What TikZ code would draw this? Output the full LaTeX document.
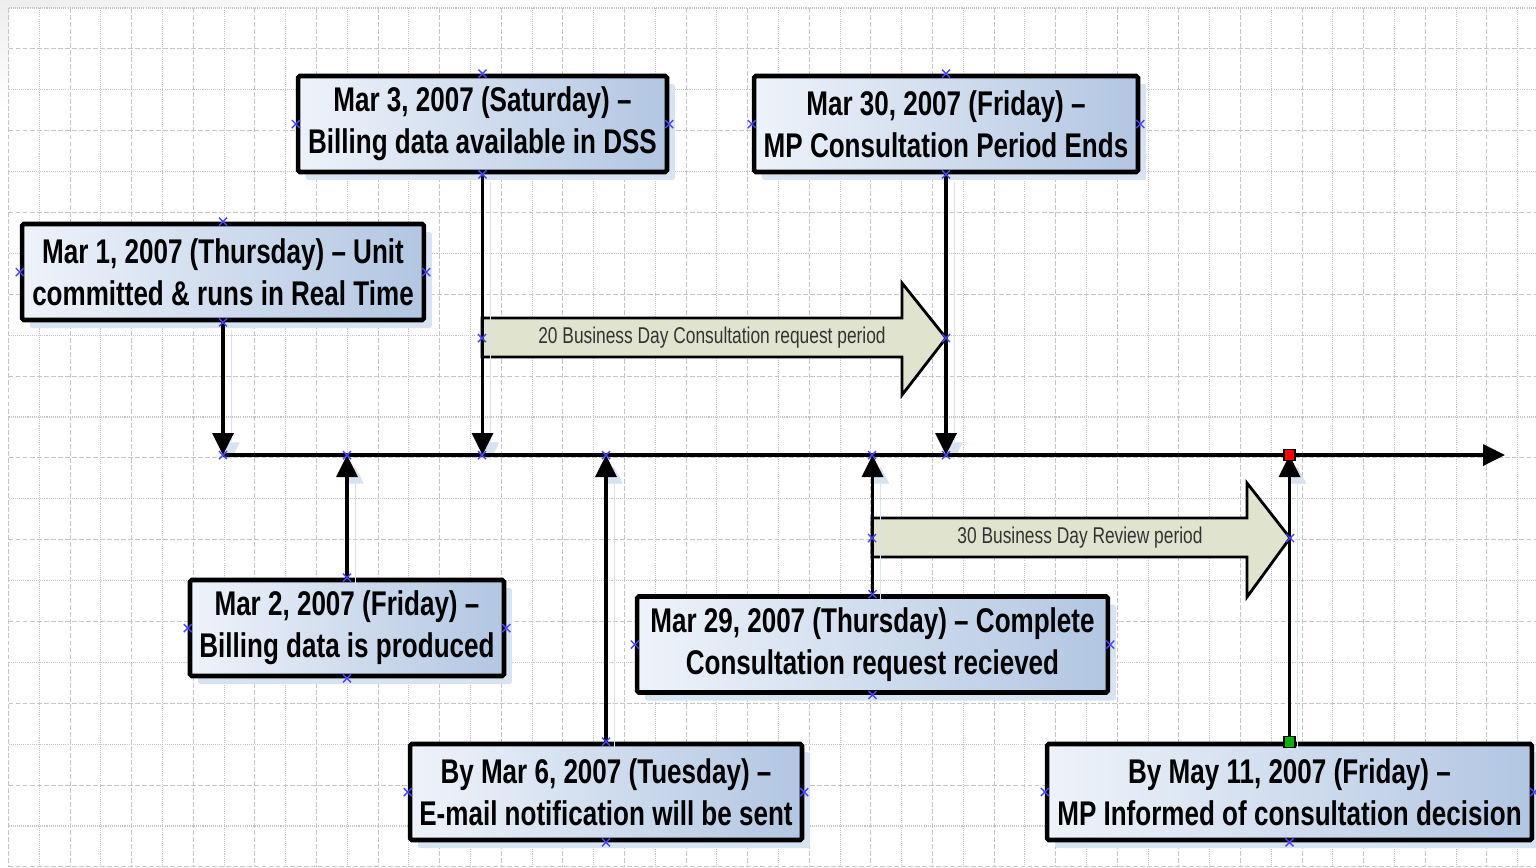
\documentclass[tikz,border=0pt]{standalone}
\usepackage{fontspec}
\setmainfont{Liberation Sans}
\newfontfamily\narrowfont{Liberation Sans}[FakeStretch=0.76,Ligatures=TeX]
\usepackage{tikz}
\usetikzlibrary{arrows.meta,shadows}
\definecolor{boxleft}{RGB}{238,243,250}
\definecolor{boxright}{RGB}{178,198,226}
\definecolor{boxshadow}{RGB}{216,227,242}
\definecolor{spanfill}{RGB}{224,228,206}
\definecolor{gridline}{RGB}{198,198,198}
\definecolor{cpblue}{RGB}{70,70,255}

\begin{document}
\begin{tikzpicture}[x=0.02cm,y=-0.02cm,>={Triangle[length=0.44cm,width=0.42cm]},
  event/.style={draw=black,line width=2.6pt,rounded corners=1pt,left color=boxleft,right color=boxright,
    minimum height=1.92cm,align=center,inner sep=2pt,
    font=\narrowfont\bfseries\fontsize{19.5}{24}\selectfont,
    drop shadow={shadow xshift=0.16cm,shadow yshift=-0.16cm,fill=boxshadow,opacity=1}},
  link/.style={->,line width=2pt,
    preaction={draw=boxshadow,transform canvas={shift={(0.16cm,-0.16cm)}}}},
  span/.style={draw=black,line width=1.6pt,fill=spanfill,line join=miter},
  spanlabel/.style={font=\narrowfont\fontsize{13}{15}\selectfont,text=black!80},
  gridmajor/.style={gridline,line width=0.6pt,dash pattern=on 2.8pt off 1.2pt},
  gridminor/.style={gridline,line width=0.6pt,dash pattern=on 0.6pt off 0.6pt},
  cp/.style={cpblue,line width=0.8pt}]
\useasboundingbox (0,0) rectangle (1536,867);
\fill[white] (0,0) rectangle (1536,867);
\shade[left color=gray!14,right color=white] (0,0) rectangle (400,7);
\shade[top color=gray!14,bottom color=white] (0,0) rectangle (9,110);
\foreach \k in {0,2,...,48} \draw[gridmajor] ({8.5+30.8*\k},8) -- ({8.5+30.8*\k},867);
\foreach \k in {1,3,...,49} \draw[gridminor] ({8.5+30.8*\k},8) -- ({8.5+30.8*\k},867);
\foreach \k in {1,3,...,21} \draw[gridmajor] (8.5,{8+40.9*\k}) -- (1536,{8+40.9*\k});
\foreach \k in {0,2,...,20} \draw[gridminor] (8.5,{8+40.9*\k}) -- (1536,{8+40.9*\k});

\node[event,minimum width=8.04cm] (mar1) at (223,272) {Mar 1, 2007 (Thursday) -- Unit\\committed \& runs in Real Time};
\node[event,minimum width=7.38cm] (mar3) at (482.5,124) {Mar 3, 2007 (Saturday) --\\Billing data available in DSS};
\node[event,minimum width=7.68cm] (mar30) at (946,124) {Mar 30, 2007 (Friday) --\\MP Consultation Period Ends};
\node[event,minimum width=6.28cm] (mar2) at (347,628) {Mar 2, 2007 (Friday) --\\Billing data is produced};
\node[event,minimum width=7.84cm] (mar6) at (606,792) {By Mar 6, 2007 (Tuesday) --\\E-mail notification will be sent};
\node[event,minimum width=9.42cm] (mar29) at (872.5,644.5) {Mar 29, 2007 (Thursday) -- Complete\\Consultation request recieved};
\node[event,minimum width=9.7cm] (may11) at (1289.5,792) {By May 11, 2007 (Friday) --\\MP Informed of consultation decision};

\coordinate (start) at (223,455);
\coordinate (end) at (1505,455);

\draw[span] (482,318) -- (902,318) -- (902,283) -- (946,338) -- (902,395) -- (902,357) -- (482,357) -- cycle;
\node[spanlabel] (consult) at (712,338) {20 Business Day Consultation request period};
\draw[span] (872,518) -- (1247,518) -- (1247,483) -- (1290,538) -- (1247,597) -- (1247,557) -- (872,557) -- cycle;
\node[spanlabel] (review) at (1080,538) {30 Business Day Review period};

\draw[link] (mar1.south) -- (mar1.south |- start);
\draw[link] (mar3.south) -- (mar3.south |- start);
\draw[link] (mar30.south) -- (mar30.south |- start);
\draw[link] (mar2.north) -- (mar2.north |- start);
\draw[link] (mar6.north) -- (mar6.north |- start);
\draw[link] (mar29.north) -- (mar29.north |- start);
\draw[link] (may11.north) -- (may11.north |- start);
\draw[->,line width=2pt] (start) -- (end);

\foreach \n in {mar1,mar3,mar30,mar2,mar6,mar29,may11}
  \foreach \a in {south,east,west,north}
    \draw[cp] (\n.\a) ++(-0.08cm,-0.08cm) -- ++(0.16cm,0.16cm) ++(-0.16cm,0) -- ++(0.16cm,-0.16cm);
\foreach \p in {(223,455),(347,455),(482,455),(606,455),(872,455),(946,455),(482,338),(946,338),(872,538),(1290,538)}
  \draw[cp] \p ++(-0.08cm,-0.08cm) -- ++(0.16cm,0.16cm) ++(-0.16cm,0) -- ++(0.16cm,-0.16cm);

\node[draw=black,fill=red,line width=0.6pt,minimum size=0.22cm,inner sep=0pt] (glue) at (may11.north |- start) {};
\node[draw=black,fill=green!70!black,line width=0.6pt,minimum size=0.22cm,inner sep=0pt] (hook) at (may11.north) {};
\end{tikzpicture}
\end{document}
